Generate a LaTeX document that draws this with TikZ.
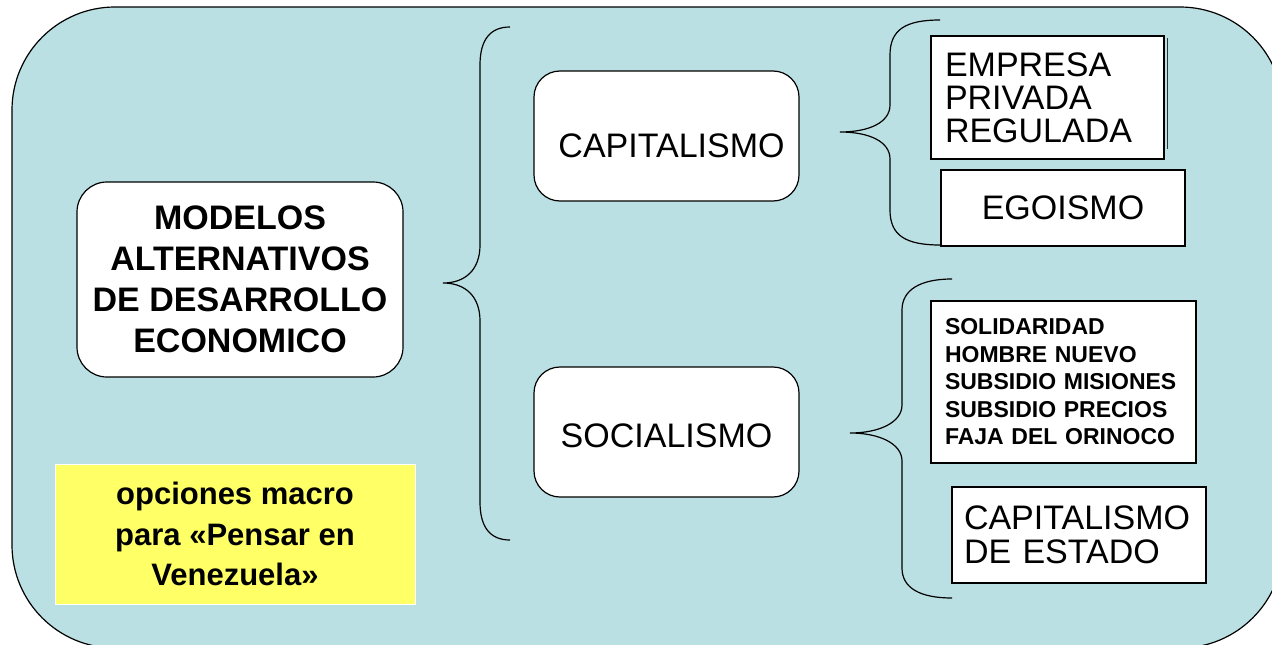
\documentclass[tikz,border=0pt]{standalone}
\usepackage{fontspec}
\setmainfont{Liberation Sans}
\definecolor{bgblue}{RGB}{187,224,227}
\definecolor{yel}{RGB}{255,255,102}
\begin{document}
\begin{tikzpicture}[x=1pt,y=-1pt,line width=1.2pt,
  rbox/.style={draw=black,fill=white,inner sep=0pt,align=center},
  sbox/.style={draw=black,fill=white,inner ysep=0pt},
  bigtext/.style={font=\fontsize{34}{33}\selectfont},
  bracestyle/.style={draw=black,line width=1.2pt},
  shadowline/.style={draw=black!80,line width=1.2pt}]
\useasboundingbox (0,0) rectangle (1272,645);
\begin{scope}
  \clip (0,0) rectangle (1272,645);
  \path[draw=black,fill=bgblue,rounded corners=103pt] (12,7) rectangle (1283,648);
\end{scope}

% braces
\draw[bracestyle] (510,27) .. controls (490,27) and (480,40) .. (480,65) -- (480,245)
  .. controls (480,270) and (465,283) .. (443,283)
  .. controls (465,283) and (480,296) .. (480,321) -- (480,502)
  .. controls (480,527) and (490,540) .. (510,540);
\draw[bracestyle] (940,20) .. controls (905,20) and (890,30) .. (890,55) -- (890,105)
  .. controls (890,122) and (870,132) .. (840,132)
  .. controls (870,132) and (890,142) .. (890,159) -- (890,210)
  .. controls (890,235) and (905,245) .. (940,245);
\draw[bracestyle] (952,279) .. controls (920,279) and (902,290) .. (902,310) -- (902,405)
  .. controls (902,422) and (880,433) .. (850,433)
  .. controls (880,433) and (902,444) .. (902,461) -- (902,568)
  .. controls (902,588) and (920,598) .. (952,598);

% main nodes
\node[rbox,rounded corners=30pt,minimum width=326pt,minimum height=195pt,
  font=\bfseries\fontsize{34}{41}\selectfont] (modelos) at (240,279.5)
  {MODELOS\\ALTERNATIVOS\\DE DESARROLLO\\ECONOMICO};
\node[rbox,rounded corners=26pt,minimum width=265pt,minimum height=130pt,bigtext,
  text height=43pt,text depth=0pt] (capit) at (666.5,136) {\hspace*{10pt}CAPITALISMO};
\node[rbox,rounded corners=26pt,minimum width=265pt,minimum height=130pt,bigtext,
  text height=30pt,text depth=0pt] (socia) at (666.5,432) {SOCIALISMO};

% right boxes
\node[sbox,inner xsep=14pt,text width=205pt,minimum height=123pt,align=left,bigtext] (empresa) at (1047.5,97.5)
  {EMPRESA\\PRIVADA\\REGULADA};
\draw[shadowline] ([xshift=2.5pt,yshift=-3pt]empresa.north east) -- ([xshift=2.5pt,yshift=11pt]empresa.south east);
\node[sbox,minimum width=244pt,minimum height=76pt,bigtext] (egoismo) at (1063,208) {EGOISMO};
\node[sbox,inner xsep=14pt,text width=237pt,minimum height=162pt,align=left,
  font=\bfseries\fontsize{23}{27.5}\selectfont] (solid) at (1063.5,382)
  {SOLIDARIDAD\\HOMBRE NUEVO\\SUBSIDIO MISIONES\\SUBSIDIO PRECIOS\\FAJA DEL ORINOCO};
\node[sbox,inner xsep=12pt,text width=230pt,minimum height=96pt,align=left,
  font=\fontsize{34}{34}\selectfont] (capest) at (1079,535)
  {CAPITALISMO\\DE ESTADO};

% yellow note
\node[draw=white,line width=1pt,fill=yel,inner sep=0pt,minimum width=360pt,minimum height=140pt,align=center,
  font=\bfseries\fontsize{31}{40.5}\selectfont] (note) at (235,534)
  {opciones macro\\para «Pensar en\\Venezuela»};
\end{tikzpicture}
\end{document}
